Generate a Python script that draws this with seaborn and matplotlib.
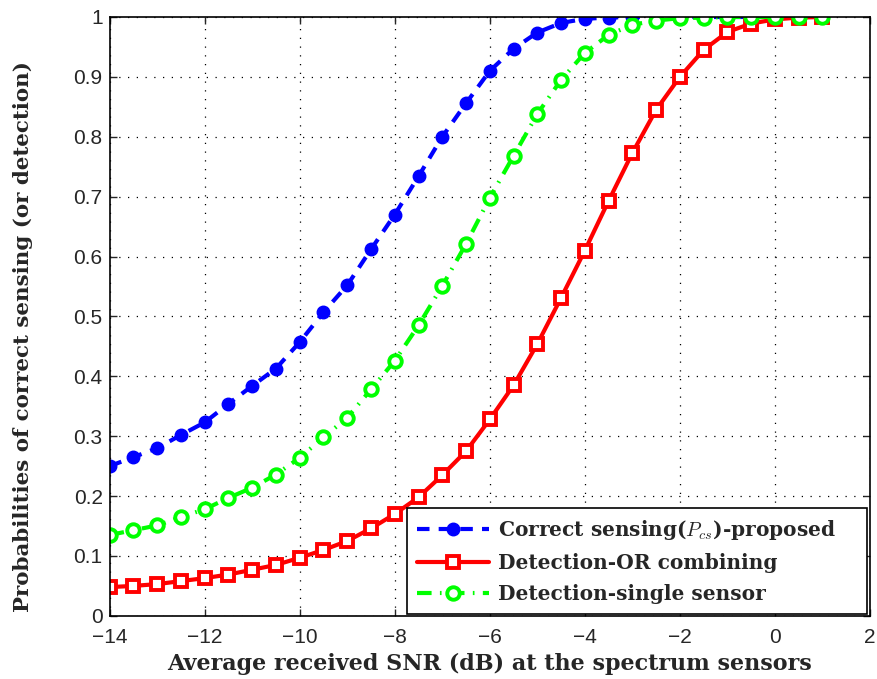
import matplotlib
matplotlib.use('Agg')
import matplotlib.pyplot as plt
import seaborn as sns
import numpy as np

# SNR points (dB)
snr_db = [-14, -13.5, -13, -12.5, -12, -11.5, -11, -10.5, -10, -9.5, -9, -8.5, -8, -7.5,
          -7, -6.5, -6, -5.5, -5, -4.5, -4, -3.5, -3, -2.5, -2, -1.5, -1, -0.5, 0, 0.5, 1]

# Correct sensing (P_cs) - proposed
p_cs = [0.250, 0.265, 0.280, 0.302, 0.323, 0.354, 0.384, 0.413, 0.457, 0.507, 0.552, 0.612,
        0.670, 0.734, 0.800, 0.856, 0.910, 0.947, 0.974, 0.990, 0.997, 0.999, 1.0, 1.0,
        1.0, 1.0, 1.0, 1.0, 1.0, 1.0, 1.0]

# Detection - OR combining
p_or = [0.048, 0.050, 0.053, 0.058, 0.063, 0.069, 0.077, 0.085, 0.097, 0.110, 0.125, 0.146,
        0.170, 0.198, 0.235, 0.275, 0.328, 0.385, 0.454, 0.531, 0.610, 0.693, 0.773, 0.845,
        0.900, 0.945, 0.975, 0.989, 0.996, 0.999, 1.0]

# Detection - single sensor
p_single = [0.135, 0.143, 0.151, 0.165, 0.178, 0.197, 0.214, 0.236, 0.264, 0.298, 0.331, 0.378,
            0.426, 0.485, 0.551, 0.621, 0.698, 0.768, 0.838, 0.895, 0.940, 0.970, 0.987, 0.994,
            0.998, 0.999, 1.0, 1.0, 1.0, 1.0, 1.0]

sns.set_style('ticks')
plt.rcParams['font.family'] = ['Liberation Sans', 'DejaVu Sans']
plt.rcParams['mathtext.fontset'] = 'cm'

fig = plt.figure(figsize=(8.77, 6.79), dpi=100)
ax = fig.add_axes([0.125, 0.093, 0.867, 0.882])

sns.lineplot(x=snr_db, y=p_cs, ax=ax, color='#0000ff', linestyle=(0, (3, 2.2)), lw=3,
             marker='o', markersize=9, markeredgewidth=1, markeredgecolor='#0000ff',
             label=r'Correct sensing($P_{cs}$)-proposed')
sns.lineplot(x=snr_db, y=p_or, ax=ax, color='#ff0000', linestyle='-', lw=3,
             marker='s', markersize=8, markerfacecolor='white', markeredgewidth=2.8,
             markeredgecolor='#ff0000', label='Detection-OR combining')
sns.lineplot(x=snr_db, y=p_single, ax=ax, color='#00ff00', linestyle=(0, (3.5, 2, 0.4, 2)), lw=3,
             marker='o', markersize=9, markerfacecolor='white', markeredgewidth=2.8,
             markeredgecolor='#00ff00', label='Detection-single sensor')

ax.set_xlim(-14, 2)
ax.set_ylim(0, 1)
ax.set_xticks(np.arange(-14, 3, 2))
ax.set_yticks(np.arange(0, 1.01, 0.1))
ax.set_xticklabels(['\u221214', '\u221212', '\u221210', '\u22128', '\u22126', '\u22124', '\u22122', '0', '2'])
ax.set_yticklabels(['0', '0.1', '0.2', '0.3', '0.4', '0.5', '0.6', '0.7', '0.8', '0.9', '1'])
ax.tick_params(labelsize=15, direction='in', length=5, width=1, top=True, right=True)
ax.tick_params(axis='x', pad=9)
ax.tick_params(axis='y', pad=5)
ax.grid(True, linestyle=(0, (1, 6)), color='black', lw=0.9)
for s in ax.spines.values():
    s.set_linewidth(1.2)
    s.set_color('black')

ax.set_xlabel('Average received SNR (dB) at the spectrum sensors', family='DejaVu Serif',
              fontweight='bold', fontsize=16, labelpad=4)
ax.set_ylabel('Probabilities of correct sensing (or detection)', family='DejaVu Serif',
              fontweight='bold', fontsize=15.4)
ax.yaxis.set_label_coords(-0.101, 0.467)

leg = ax.legend(loc='lower left', bbox_to_anchor=(0.391, 0.003, 0.605, 0.17), mode='expand',
                fancybox=False, edgecolor='black', framealpha=1,
                prop={'family': 'DejaVu Serif', 'weight': 'bold', 'size': 14.5},
                handlelength=3.6, handletextpad=0.4, borderaxespad=0.0,
                labelspacing=0.55, borderpad=0.5)
leg.get_frame().set_linewidth(1.2)

fig.savefig('out.png', dpi=100)
